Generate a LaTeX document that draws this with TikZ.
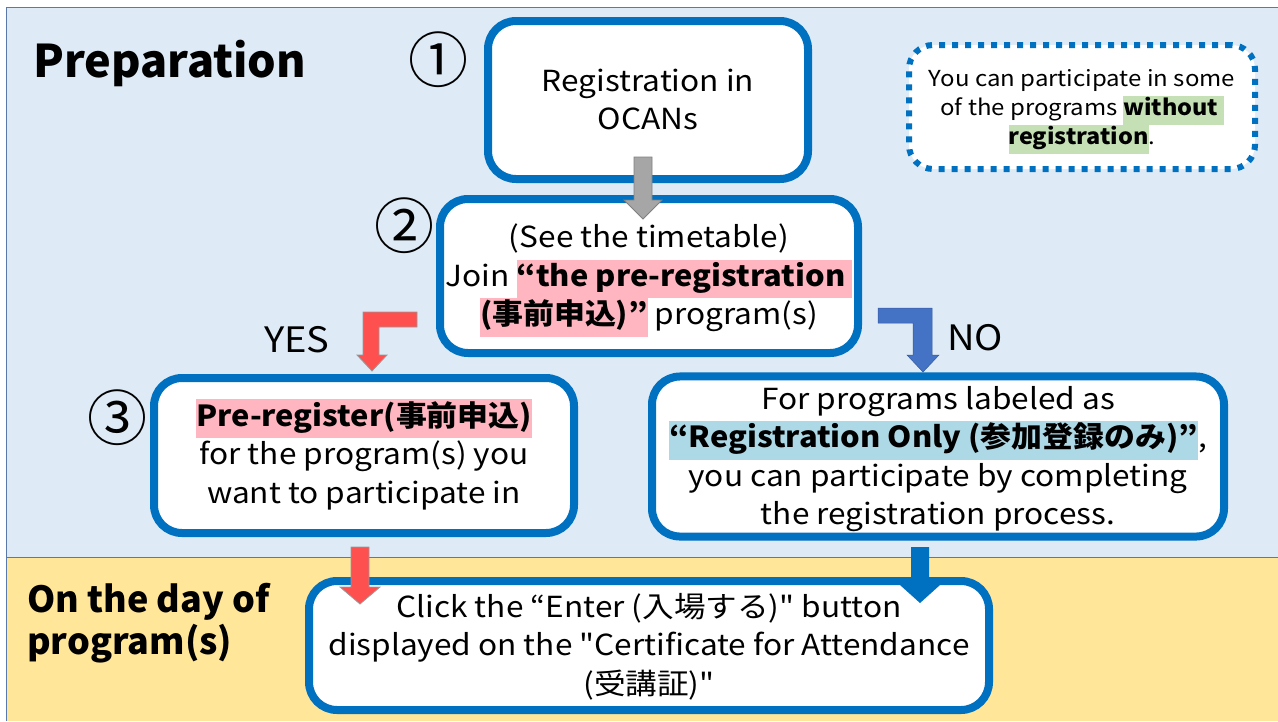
\documentclass[tikz,border=0pt]{standalone}
\usepackage{fontspec}
\setmainfont{Noto Sans CJK JP}[Ligatures=TeXOff, UprightFeatures={FakeStretch=1.09}, BoldFeatures={FakeStretch=1.065}]
\newfontfamily\headfont{Noto Sans CJK JP}[Ligatures=TeXOff]
\usepackage{xcolor}
\definecolor{bgblue}{HTML}{DEEBF7}
\definecolor{bgyellow}{HTML}{FFE699}
\definecolor{framec}{HTML}{5A78AA}
\definecolor{boxblue}{HTML}{0070C0}
\definecolor{hlpink}{HTML}{FFB6C1}
\definecolor{hlblue}{HTML}{ADD8E6}
\definecolor{hlgreen}{HTML}{C5E0B4}
\definecolor{arrred}{HTML}{FF5050}
\definecolor{arrgray}{HTML}{A6A6A6}
\definecolor{arrnavy}{HTML}{4472C4}
\newcommand{\hlx}[2]{{\setlength{\fboxsep}{0pt}\colorbox{#1}{\strut #2}}}
\newcommand{\tops}[1]{\rule{0pt}{#1}}
\tikzset{
  stepbox/.style={draw=boxblue, line width=8pt, rounded corners=28pt, fill=white,
    align=center, inner sep=0pt, font=\fontsize{29}{38.5}\selectfont},
  notebox/.style={draw=boxblue, line width=6pt, dash pattern=on 6pt off 7pt,
    rounded corners=24pt, fill=white, align=center, inner sep=0pt,
    font=\fontsize{22}{29}\selectfont},
  numlab/.style={inner sep=0pt, font=\headfont\fontsize{60}{60}\selectfont},
  title/.style={inner sep=0pt, anchor=base west, font=\headfont\fontsize{45}{50}\selectfont\bfseries},
  subtitle/.style={inner sep=0pt, anchor=base west, font=\headfont\fontsize{36}{42}\selectfont\bfseries},
  yn/.style={inner sep=0pt, font=\fontsize{35}{38}\selectfont},
  redarrow/.style={fill=arrred, draw=gray!80, line width=0.8pt},
  grayarrow/.style={fill=arrgray, draw=gray, line width=0.8pt},
  navyarrow/.style={fill=arrnavy, draw=arrnavy!80!black, line width=0.5pt},
  bluearrow/.style={fill=boxblue},
}
\begin{document}
\begin{tikzpicture}[x=1pt,y=-1pt]
\useasboundingbox (0,0) rectangle (1278,721);
% backgrounds
\fill[bgblue] (6,7) rectangle (1278,557);
\fill[bgyellow] (6,557) rectangle (1278,721);
\draw[framec, line width=1pt] (1278,7) -- (6,7) -- (6,721);
\draw[framec, line width=1pt] (6,557) -- (1278,557);
% titles
\node[title] (prep) at (33,77) {Preparation};
\node[subtitle] (day1) at (27,612) {On the day of};
\node[subtitle] (day2) at (27,654) {program(s)};
% numbers
\node[numlab] (n1) at (438,60) {①};
\node[numlab] (n2) at (404,226) {②};
\node[numlab] (n3) at (117,418) {③};
% boxes
\node[stepbox, minimum width=320, minimum height=158] (b1) at (648,100)
  {\tops{33pt}Registration in\\\strut OCANs};
\node[stepbox, minimum width=418, minimum height=154] (b2) at (649,276)
  {\tops{32.5pt}(See the timetable)\\Join \hlx{hlpink}{\bfseries “the pre-registration }\\\hlx{hlpink}{\bfseries (事前申込)”} program(s)};
\node[stepbox, minimum width=420, minimum height=155] (b3) at (364,455.5)
  {\tops{30pt}\hlx{hlpink}{\bfseries Pre-register(事前申込)}\\for the program(s) you\\\strut want to participate in};
\node[stepbox, minimum width=572, minimum height=153] (b4) at (938,456.5)
  {\tops{33pt}For programs labeled as\\\hlx{hlblue}{\bfseries “Registration Only (参加登録のみ)”},\\you can participate by completing\\\strut the registration process.};
\node[stepbox, minimum width=680, minimum height=129] (b5) at (649,645.5)
  {\tops{32pt}Click the “Enter (入場する)" button\\displayed on the "Certificate for Attendance\\\strut(受講証)"};
\node[notebox, minimum width=346, minimum height=124] (note) at (1082,107)
  {\tops{26.3pt}You can participate in some\\of the programs \hlx{hlgreen}{\bfseries without }\\\hlx{hlgreen}{\bfseries registration}.};
% labels
\node[yn] (yes) at (297,340) {YES};
\node[yn] (no) at (975,338) {NO};
% arrows
\draw[grayarrow] (634,157) -- (652,157) -- (652,200) -- (662,200) -- (643,219) -- (624,200) -- (634,200) -- cycle;
\draw[redarrow] (417,312) -- (417,327) -- (379,327) -- (379,355) -- (387,355) -- (372,371) -- (357,355) -- (363,355) -- (363,312) -- cycle;
\draw[navyarrow] (878,308) -- (932,308) -- (932,355) -- (939,355) -- (923,372) -- (907,355) -- (913,355) -- (913,323) -- (878,323) -- cycle;
\draw[redarrow] (351,547) -- (369,547) -- (369,587) -- (380,587) -- (360,604) -- (340,587) -- (351,587) -- cycle;
\fill[bluearrow] (911,547) -- (929,547) -- (929,585) -- (940,585) -- (920,603) -- (900,585) -- (911,585) -- cycle;
\end{tikzpicture}
\end{document}
